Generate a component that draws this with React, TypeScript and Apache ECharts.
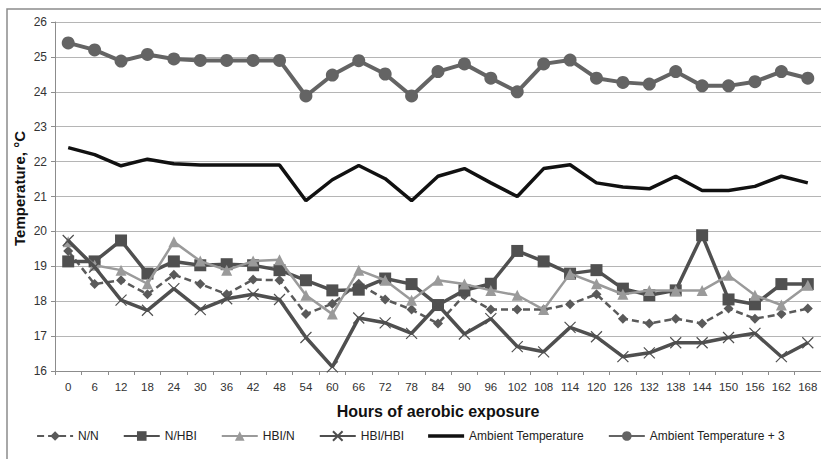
import React, { useEffect, useRef } from "react";
import * as echarts from "echarts";

const hours = ["0","6","12","18","24","30","36","42","48","54","60","66","72","78","84","90","96","102","108","114","120","126","132","138","144","150","156","162","168"];

const nN = [19.44,18.49,18.6,18.2,18.76,18.49,18.2,18.62,18.6,17.63,17.93,18.5,18.05,17.76,17.36,18.17,17.76,17.76,17.76,17.91,18.2,17.5,17.36,17.5,17.36,17.79,17.5,17.63,17.79];
const nHBI = [19.14,19.14,19.74,18.79,19.14,19.03,19.06,19.03,18.89,18.6,18.31,18.33,18.65,18.49,17.89,18.31,18.5,19.44,19.14,18.79,18.89,18.36,18.17,18.31,19.89,18.05,17.91,18.49,18.49];
const hbiN = [19.7,19.03,18.89,18.5,19.7,19.15,18.89,19.15,19.19,18.17,17.63,18.89,18.6,18.03,18.6,18.49,18.31,18.17,17.76,18.79,18.5,18.2,18.31,18.31,18.31,18.74,18.17,17.89,18.46];
const hbiHBI = [19.74,18.98,18.03,17.74,18.36,17.76,18.07,18.2,18.05,16.96,16.12,17.52,17.38,17.08,17.89,17.06,17.5,16.7,16.55,17.25,16.98,16.41,16.52,16.81,16.81,16.96,17.08,16.41,16.81];
const ambient = [22.4,22.2,21.88,22.07,21.94,21.9,21.9,21.9,21.9,20.88,21.48,21.89,21.51,20.88,21.58,21.8,21.39,21.0,21.8,21.91,21.39,21.27,21.22,21.58,21.17,21.17,21.29,21.58,21.39];
const ambientPlus3 = [25.4,25.2,24.88,25.07,24.94,24.9,24.9,24.9,24.9,23.88,24.48,24.89,24.51,23.88,24.58,24.8,24.39,24.0,24.8,24.91,24.39,24.27,24.22,24.58,24.17,24.17,24.29,24.58,24.39];

const FONT = "Liberation Sans";

export default function App() {
  const ref = useRef<HTMLDivElement>(null);
  useEffect(() => {
    if (!ref.current) return;
    const chart = echarts.init(ref.current, undefined, { renderer: "svg" });
    const xSym = "path://M0,0L10,10M10,0L0,10";
    chart.setOption({
      animation: false,
      backgroundColor: "#ffffff",
      textStyle: { fontFamily: FONT },
      graphic: [
        {
          type: "rect",
          shape: { x: 7, y: 9, width: 840, height: 470 },
          style: { fill: "none", stroke: "#8c8c8c", lineWidth: 1.5 },
          silent: true,
        },
      ],
      grid: { left: 55, right: 0, top: 22, bottom: 88 },
      legend: {
        bottom: 12,
        left: "center",
        itemWidth: 36,
        itemHeight: 12,
        itemGap: 24,
        textStyle: { fontFamily: FONT, fontSize: 12, color: "#222" },
        data: [
          "N/N",
          "N/HBI",
          "HBI/N",
          "HBI/HBI",
          { name: "Ambient Temperature", icon: "path://M0,0L40,0L40,4L0,4Z" },
          "Ambient Temperature + 3",
        ],
      },
      xAxis: {
        type: "category",
        data: hours,
        boundaryGap: true,
        name: "Hours of aerobic exposure",
        nameLocation: "middle",
        nameGap: 32,
        nameTextStyle: { fontFamily: FONT, fontSize: 16, fontWeight: "bold", color: "#111" },
        axisLine: { lineStyle: { color: "#8c8c8c", width: 1 } },
        axisTick: { show: true, alignWithLabel: false, length: 4, lineStyle: { color: "#8c8c8c" } },
        axisLabel: { fontFamily: FONT, fontSize: 11.5, color: "#333", margin: 10, interval: 0 },
      },
      yAxis: {
        type: "value",
        min: 16,
        max: 26,
        interval: 1,
        name: "Temperature, °C",
        nameLocation: "middle",
        nameGap: 28,
        nameMoveOverlap: false,
        nameRotate: 90,
        nameTextStyle: { fontFamily: FONT, fontSize: 15, fontWeight: "bold", color: "#111", padding: [0, 0, 0, 16] },
        axisLine: { show: true, lineStyle: { color: "#8c8c8c", width: 1 } },
        axisTick: { show: true, length: 4, lineStyle: { color: "#8c8c8c" } },
        axisLabel: { fontFamily: FONT, fontSize: 12, color: "#333", margin: 8 },
        splitLine: { lineStyle: { color: "#b5b5b5", width: 1 } },
      },
      series: [
        {
          name: "N/N",
          type: "line",
          data: nN,
          symbol: "diamond",
          symbolSize: 10,
          color: "#5a5a5a",
          lineStyle: { width: 2.5, type: [7, 4], color: "#5a5a5a" },
          itemStyle: { color: "#5a5a5a" },
          z: 3,
        },
        {
          name: "N/HBI",
          type: "line",
          data: nHBI,
          symbol: "rect",
          symbolSize: 12,
          color: "#505050",
          lineStyle: { width: 3.5, color: "#505050" },
          itemStyle: { color: "#505050" },
          z: 4,
        },
        {
          name: "HBI/N",
          type: "line",
          data: hbiN,
          symbol: "triangle",
          symbolSize: 11,
          color: "#9a9a9a",
          lineStyle: { width: 2.5, color: "#9a9a9a" },
          itemStyle: { color: "#9a9a9a" },
          z: 5,
        },
        {
          name: "HBI/HBI",
          type: "line",
          data: hbiHBI,
          symbol: xSym,
          symbolSize: 11,
          color: "#4f4f4f",
          lineStyle: { width: 3.5, color: "#4f4f4f" },
          itemStyle: { color: "#4f4f4f", borderColor: "#4f4f4f", borderWidth: 1.2 },
          z: 6,
        },
        {
          name: "Ambient Temperature",
          type: "line",
          data: ambient,
          symbol: "none",
          color: "#111111",
          lineStyle: { width: 3.5, color: "#111111" },
          itemStyle: { color: "#111111" },
          z: 7,
        },
        {
          name: "Ambient Temperature + 3",
          type: "line",
          data: ambientPlus3,
          symbol: "circle",
          symbolSize: 13,
          color: "#646464",
          lineStyle: { width: 4, color: "#646464" },
          itemStyle: { color: "#646464" },
          z: 8,
        },
      ],
    });
    return () => chart.dispose();
  }, []);
  return <div ref={ref} style={{ width: 821, height: 459, position: "absolute", left: 0, top: 0 }} />;
}
